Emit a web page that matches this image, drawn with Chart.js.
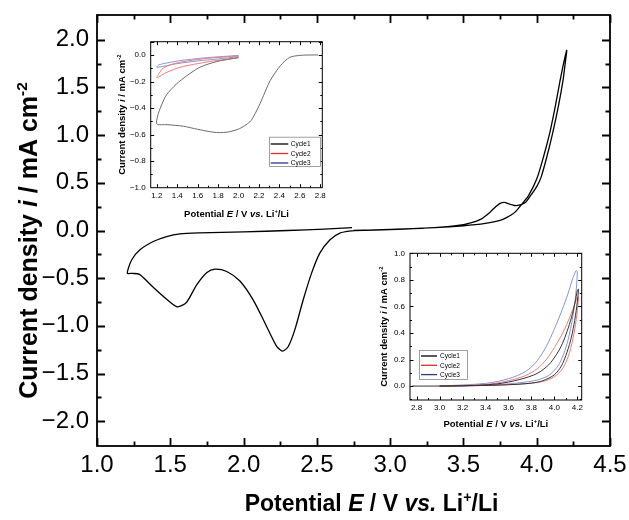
<!DOCTYPE html>
<html><head><meta charset="utf-8">
<script src="https://cdn.jsdelivr.net/npm/chart.js@4.4.1/dist/chart.umd.min.js"></script>
<style>
html,body{margin:0;padding:0;background:#fff;}
#wrap{position:relative;width:629px;height:520px;overflow:hidden;background:#fff;}
canvas{position:absolute;}
</style></head><body>
<div id="wrap">
<canvas id="main" width="629" height="520" style="left:0;top:0"></canvas>
<canvas id="ins1" width="230" height="195" style="left:100px;top:30px"></canvas>
<canvas id="ins2" width="215" height="190" style="left:372px;top:245px"></canvas>
</div>
<script>
// ---------- DATA ----------
// Main CV (potential / V, current density / mA cm-2)
const mainE = [2.75,2.9,3.1,3.3,3.45,3.55,3.62,3.68,3.72,3.75,3.78,3.81,3.85,3.88,3.92,3.96,4.0,4.03,4.067,4.11,4.15,4.18,4.195,4.205,
  4.19,4.176,4.158,4.124,4.09,4.044,4.0,3.942,3.90,3.85,3.8,3.75,3.65,3.5,3.3,3.0,2.8,2.74,2.657,2.59,2.52,2.464,2.407,2.35,2.305,2.266,2.226,2.157,2.07,1.975,1.885,1.805,1.75,1.68,1.61,1.548,1.475,1.38,1.29,1.24,1.207,
  1.237,1.293,1.384,1.475,1.566,1.7,2.0,2.3,2.55,2.74];
const mainI = [0.0,0.005,0.015,0.03,0.05,0.08,0.12,0.19,0.25,0.285,0.295,0.28,0.262,0.265,0.29,0.37,0.46,0.56,0.76,1.03,1.32,1.58,1.76,1.89,
  1.80,1.70,1.56,1.28,1.03,0.76,0.54,0.36,0.28,0.19,0.14,0.105,0.075,0.05,0.03,0.012,0.002,-0.003,-0.027,-0.097,-0.237,-0.447,-0.726,-1.04,-1.216,-1.265,-1.216,-1.006,-0.74,-0.53,-0.43,-0.405,-0.44,-0.57,-0.755,-0.80,-0.72,-0.59,-0.46,-0.45,-0.447,
  -0.307,-0.202,-0.115,-0.063,-0.035,-0.025,-0.015,0.0,0.015,0.03];
const mainXTicks = [1.0,1.5,2.0,2.5,3.0,3.5,4.0,4.5];
const mainYTicks = [-2.0,-1.5,-1.0,-0.5,0.0,0.5,1.0,1.5,2.0];

// Inset 1 (cathodic region)
const ins1C1E = [2.78,2.7,2.6,2.5,2.41,2.31,2.21,2.15,2.11,2.01,1.9,1.8,1.72,1.6,1.46,1.3,1.2,1.215,1.25,1.295,1.39,1.49,1.62,1.785,2.0];
const ins1C1I = [0.0,0.0,-0.003,-0.018,-0.08,-0.193,-0.367,-0.46,-0.505,-0.555,-0.58,-0.585,-0.578,-0.56,-0.537,-0.525,-0.52,-0.44,-0.37,-0.30,-0.22,-0.158,-0.093,-0.05,-0.02];
const ins1C2E = [2.0,1.8,1.6,1.425,1.3,1.2,1.23,1.26,1.35,1.5,1.7,2.0];
const ins1C2I = [-0.02,-0.04,-0.065,-0.093,-0.13,-0.17,-0.13,-0.1,-0.07,-0.045,-0.025,-0.008];
const ins1C3E = [2.0,1.8,1.6,1.4,1.2,1.22,1.3,1.45,1.7,2.0];
const ins1C3I = [-0.012,-0.03,-0.045,-0.065,-0.093,-0.075,-0.06,-0.04,-0.02,-0.003];
const ins1XTicks = [1.2,1.4,1.6,1.8,2.0,2.2,2.4,2.6,2.8];
const ins1YTicks = [-1.0,-0.8,-0.6,-0.4,-0.2,0.0];

// Inset 2 (anodic region)
const ins2C1E = [2.76,3.0,3.3,3.6,3.8,3.9,4.0,4.06,4.1,4.14,4.17,4.195,4.21,4.2,4.18,4.15,4.11,4.07,4.02,3.95,3.85,3.7,3.5,3.2,3.0];
const ins2C1I = [0,0,0.003,0.01,0.022,0.04,0.085,0.15,0.23,0.34,0.46,0.6,0.73,0.72,0.63,0.52,0.41,0.32,0.24,0.16,0.095,0.05,0.016,0.002,0];
const ins2C2E = [3.0,3.3,3.5,3.75,3.9,4.0,4.07,4.12,4.16,4.19,4.21,4.2,4.17,4.12,4.06,4.0,3.93,3.85,3.75,3.6,3.4,3.0];
const ins2C2I = [0,0.003,0.007,0.018,0.035,0.07,0.13,0.22,0.35,0.5,0.67,0.67,0.6,0.49,0.38,0.29,0.2,0.13,0.08,0.04,0.012,0];
const ins2C3E = [3.0,3.3,3.5,3.7,3.85,3.95,4.03,4.08,4.12,4.16,4.185,4.2,4.19,4.16,4.12,4.07,4.0,3.93,3.85,3.75,3.6,3.4,3.0];
const ins2C3I = [0,0.004,0.01,0.025,0.045,0.08,0.15,0.24,0.35,0.52,0.68,0.86,0.87,0.81,0.7,0.58,0.43,0.3,0.19,0.11,0.055,0.02,0];
const ins2XTicks = [2.8,3.0,3.2,3.4,3.6,3.8,4.0,4.2];
const ins2YTicks = [0.0,0.2,0.4,0.6,0.8,1.0];

const cycleLabels = ['Cycle1','Cycle2','Cycle3'];

// ---------- HELPERS ----------
const FAM = "'Liberation Sans', Arial, Helvetica, sans-serif";
Chart.defaults.font.family = FAM;
Chart.defaults.color = '#000';
const pts = (E, I) => E.map((e, k) => ({x: e, y: I[k]}));
const fmt = v => (v < -1e-9 ? '\u2212' : '') + Math.abs(v).toFixed(1);
const minorOf = (major, n) => {
  const out = [];
  for (let k = 0; k < major.length - 1; k++) for (let j = 1; j < n; j++) out.push(major[k] + (major[k+1]-major[k]) * j / n);
  return out;
};

function drawRich(ctx, segs, size, cx, cy, rot) {
  const fontFor = s => (s[1] === 'i' ? 'italic ' : '') + 'bold ' + (s[1] === 'sup' ? (size * 0.62).toFixed(1) : size) + 'px ' + FAM;
  ctx.save();
  let w = 0;
  const ws = segs.map(s => { ctx.font = fontFor(s); const m = ctx.measureText(s[0]).width; w += m; return m; });
  ctx.translate(cx, cy); ctx.rotate(rot);
  ctx.fillStyle = '#000'; ctx.textBaseline = 'alphabetic'; ctx.textAlign = 'left';
  let xx = -w / 2;
  segs.forEach((s, k) => { ctx.font = fontFor(s); ctx.fillText(s[0], xx, s[1] === 'sup' ? -size * 0.4 : 0); xx += ws[k]; });
  ctx.restore();
}

const xTitleSegs = [['Potential ',''],['E','i'],[' / V ',''],['vs.','i'],[' Li',''],['+','sup'],['/Li','']];
const yTitleSegs = [['Current density ',''],['i','i'],[' / mA cm',''],['-2','sup']];

const decorPlugin = {
  id: 'decor',
  afterDraw(chart, args, o) {
    const {ctx, chartArea: a, scales: {x, y}} = chart;
    ctx.save();
    ctx.strokeStyle = '#000';
    ctx.lineCap = 'butt';
    const tx = (vals, len) => vals.forEach(v => {
      const p = Math.round(x.getPixelForValue(v)) + 0.5;
      if (p < a.left - 0.6 || p > a.right + 0.6) return;
      ctx.beginPath(); ctx.moveTo(p, a.bottom); ctx.lineTo(p, a.bottom - len);
      ctx.moveTo(p, a.top); ctx.lineTo(p, a.top + len); ctx.stroke();
    });
    const ty = (vals, len) => vals.forEach(v => {
      const p = Math.round(y.getPixelForValue(v)) + 0.5;
      if (p < a.top - 0.6 || p > a.bottom + 0.6) return;
      ctx.beginPath(); ctx.moveTo(a.left, p); ctx.lineTo(a.left + len, p);
      ctx.moveTo(a.right, p); ctx.lineTo(a.right - len, p); ctx.stroke();
    });
    ctx.lineWidth = o.tw;
    tx(o.xMajor, o.majLen); tx(o.xMinor, o.minLen);
    ty(o.yMajor, o.majLen); ty(o.yMinor, o.minLen);
    ctx.lineWidth = o.lw;
    ctx.strokeRect(a.left, a.top, a.right - a.left, a.bottom - a.top);
    ctx.restore();
    // titles
    drawRich(ctx, xTitleSegs, o.xTitleSize, (a.left + a.right) / 2 + o.xTitleDx, o.xTitleY, 0);
    drawRich(ctx, yTitleSegs, o.yTitleSize, o.yTitleX, (a.top + a.bottom) / 2 + o.yTitleDy, -Math.PI / 2);
    // legend
    if (o.legend) {
      const L = o.legend;
      ctx.save();
      ctx.fillStyle = '#fff';
      ctx.fillRect(L.x0, L.y0, L.x1 - L.x0, L.y1 - L.y0);
      ctx.strokeStyle = '#888'; ctx.lineWidth = 0.8;
      ctx.strokeRect(L.x0 + 0.5, L.y0 + 0.5, L.x1 - L.x0, L.y1 - L.y0);
      ctx.font = L.size + 'px ' + FAM; ctx.textBaseline = 'middle'; ctx.textAlign = 'left';
      cycleLabels.forEach((lab, k) => {
        const yy = L.yFirst + k * L.dy;
        ctx.strokeStyle = L.colors[k]; ctx.lineWidth = 1.3;
        ctx.beginPath(); ctx.moveTo(L.lx0, yy); ctx.lineTo(L.lx1, yy); ctx.stroke();
        ctx.fillStyle = '#000'; ctx.fillText(lab, L.tx, yy + 0.5);
      });
      ctx.restore();
    }
  }
};

function axisCfg(min, max, ticks, size, pad, fitProp, fitVal) {
  return {
    type: 'linear', min, max,
    grid: {display: false, drawTicks: false},
    border: {display: false},
    afterBuildTicks: s => { s.ticks = ticks.map(v => ({value: v})); },
    afterFit: s => { s[fitProp] = fitVal; s.paddingTop = 0; s.paddingBottom = 0; s.paddingLeft = 0; s.paddingRight = 0; },
    ticks: {font: {size}, color: '#000', padding: pad, maxRotation: 0, autoSkip: false, callback: v => fmt(v)}
  };
}

// ---------- MAIN ----------
new Chart(document.getElementById('main'), {
  type: 'scatter',
  data: {datasets: [{data: pts(mainE, mainI), showLine: true, borderColor: '#000', borderWidth: 1.3, pointRadius: 0, tension: 0.25, fill: false}]},
  options: {
    responsive: false, animation: false, devicePixelRatio: 1,
    layout: {padding: {top: 15, right: 19, left: 0, bottom: 0}},
    plugins: {legend: {display: false}, tooltip: {enabled: false},
      decor: {lw: 1.8, tw: 1.8, majLen: 8, minLen: 4.5,
        xMajor: mainXTicks, xMinor: minorOf(mainXTicks, 2), yMajor: mainYTicks, yMinor: minorOf(mainYTicks, 2),
        xTitleSize: 23, yTitleSize: 25, xTitleY: 511, xTitleDx: 18, yTitleX: 37, yTitleDy: 10}},
    scales: {
      x: axisCfg(1.0, 4.5, mainXTicks, 24, 5, 'height', 74),
      y: axisCfg(-2.26, 2.26, mainYTicks, 24, 8, 'width', 97)
    }
  },
  plugins: [decorPlugin]
});

// ---------- INSET 1 ----------
new Chart(document.getElementById('ins1'), {
  type: 'scatter',
  data: {datasets: [
    {data: pts(ins1C1E, ins1C1I), showLine: true, borderColor: '#6a6a6a', borderWidth: 1, pointRadius: 0, tension: 0.25},
    {data: pts(ins1C2E, ins1C2I), showLine: true, borderColor: '#f07a7a', borderWidth: 1, pointRadius: 0, tension: 0.25},
    {data: pts(ins1C3E, ins1C3I), showLine: true, borderColor: '#8595d5', borderWidth: 1, pointRadius: 0, tension: 0.25}
  ]},
  options: {
    responsive: false, animation: false, devicePixelRatio: 1,
    layout: {padding: {top: 11.7, right: 7.7, left: 0, bottom: 0}},
    plugins: {legend: {display: false}, tooltip: {enabled: false},
      decor: {lw: 1, tw: 1, majLen: 3.5, minLen: 2,
        xMajor: ins1XTicks, xMinor: minorOf(ins1XTicks, 2), yMajor: ins1YTicks.concat([0.1]), yMinor: minorOf(ins1YTicks.concat([0.2]), 2),
        xTitleSize: 9.5, yTitleSize: 9.5, xTitleY: 186.5, xTitleDx: 0, yTitleX: 25, yTitleDy: 0,
        legend: {x0: 169, y0: 106.7, x1: 220, y1: 136, yFirst: 114, dy: 9.5, lx0: 170.7, lx1: 188.3, tx: 190.7, size: 6.5,
          colors: ['#000', '#e8292a', '#2b3a8c']}}},
    scales: {
      x: axisCfg(1.14, 2.82, ins1XTicks, 8, 3, 'height', 37.3),
      y: axisCfg(-1.0, 0.1, ins1YTicks, 8, 5, 'width', 50.7)
    }
  },
  plugins: [decorPlugin]
});

// ---------- INSET 2 ----------
new Chart(document.getElementById('ins2'), {
  type: 'scatter',
  data: {datasets: [
    {data: pts(ins2C1E, ins2C1I), showLine: true, borderColor: '#333', borderWidth: 1, pointRadius: 0, tension: 0.3},
    {data: pts(ins2C2E, ins2C2I), showLine: true, borderColor: '#f07a7a', borderWidth: 1, pointRadius: 0, tension: 0.3},
    {data: pts(ins2C3E, ins2C3I), showLine: true, borderColor: '#8595d5', borderWidth: 1, pointRadius: 0, tension: 0.3}
  ]},
  options: {
    responsive: false, animation: false, devicePixelRatio: 1,
    layout: {padding: {top: 8.3, right: 5.3, left: 0, bottom: 0}},
    plugins: {legend: {display: false}, tooltip: {enabled: false},
      decor: {lw: 1, tw: 1, majLen: 3.5, minLen: 2,
        xMajor: ins2XTicks, xMinor: minorOf([2.6].concat(ins2XTicks, [4.4]), 2), yMajor: ins2YTicks, yMinor: minorOf([-0.2].concat(ins2YTicks), 2),
        xTitleSize: 9.5, yTitleSize: 9.5, xTitleY: 182, xTitleDx: 0, yTitleX: 15, yTitleDy: 0,
        legend: {x0: 47, y0: 105, x1: 95, y1: 134, yFirst: 111, dy: 9.3, lx0: 49, lx1: 65, tx: 68, size: 6.5,
          colors: ['#000', '#e8292a', '#2b3a8c']}}},
    scales: {
      x: axisCfg(2.742, 4.238, ins2XTicks, 8, 3, 'height', 35),
      y: axisCfg(-0.105, 1.0, ins2YTicks, 8, 5, 'width', 38)
    }
  },
  plugins: [decorPlugin]
});
</script>
</body></html>
